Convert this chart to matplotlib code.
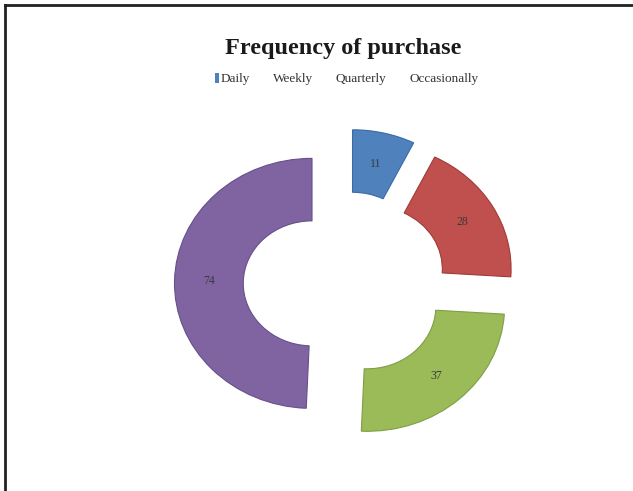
import matplotlib.pyplot as plt
from matplotlib.patches import Patch
from matplotlib.lines import Line2D

# purchase frequency counts
categories = ['Daily', 'Weekly', 'Quarterly', 'Occasionally']
counts = [11, 28, 37, 74]
colors = ['#4F81BD', '#C0504D', '#9BBB59', '#8064A2']
edges = ['#3A6BA5', '#A03A37', '#7F9E45', '#65508A']

total = sum(counts)

plt.rcParams['font.family'] = ['Liberation Serif', 'DejaVu Serif']

fig = plt.figure(figsize=(6.33, 4.91), dpi=100)
ax = fig.add_axes([0, 0, 1, 1])

wedges, texts, autotexts = ax.pie(
    counts,
    colors=colors,
    startangle=90,
    counterclock=False,
    explode=[0.24] * len(counts),
    autopct=lambda p: f"{round(p * total / 100)}",
    pctdistance=0.75,
    wedgeprops=dict(width=0.5, linewidth=0.8),
    textprops=dict(fontsize=8.5, color='#3a3a3a'),
)
for w, ec in zip(wedges, edges):
    w.set_edgecolor(ec)

# chart area is a bit wider than tall, so the ring gets stretched sideways
ax.set_aspect('auto')
ax.set_xlim(-345 / 137.5, (633 - 345) / 137.5)
ax.set_ylim(-207 / 125, (491 - 207) / 125)
ax.axis('off')

fig.text(0.542, 0.902, 'Frequency of purchase', ha='center', va='center',
         fontsize=17.5, fontweight='bold', color='#1a1a1a')

# only the Daily key shows a swatch
handles = [Patch(facecolor=colors[0], edgecolor='none')] + \
          [Patch(facecolor='none', edgecolor='none') for _ in categories[1:]]
fig.legend(handles, categories, loc='center', bbox_to_anchor=(0.548, 0.839),
           ncol=4, frameon=False, fontsize=9.5, handlelength=0.3,
           handleheight=0.8, handletextpad=0.12, columnspacing=1.3,
           labelcolor='#333333')

# frame lines along top and left edges
fig.add_artist(Line2D([5 / 633, 1], [1 - 5 / 491] * 2, color='#222222', lw=2,
                      transform=fig.transFigure))
fig.add_artist(Line2D([5 / 633] * 2, [0, 1 - 5 / 491], color='#222222', lw=2,
                      transform=fig.transFigure))

fig.savefig('out.png', dpi=100)
